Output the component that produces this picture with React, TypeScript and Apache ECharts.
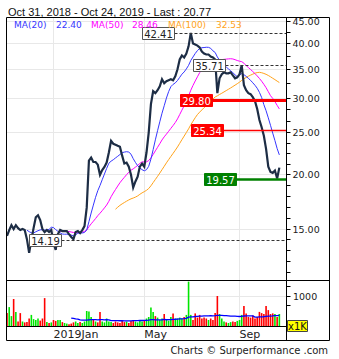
import React, { useEffect, useRef } from "react";
import * as echarts from "echarts";

// ---------------- data ----------------
const TITLE = "Oct 31, 2018 - Oct 24, 2019 - Last : 20.77";
const START_DATE = "2018-10-31";
const HOLIDAYS = [
  "2018-11-22", "2018-12-05", "2018-12-25", "2019-01-01", "2019-01-21",
  "2019-02-18", "2019-04-19", "2019-05-27", "2019-07-04", "2019-09-02",
];
const SAMPLE_STEP = 2; // trading days per plotted point
const EXTRA_POINTS = 3; // empty room right of the last close

const prices = [
  14.46, 14.92, 15.31, 15.0, 15.31, 15.07, 14.92, 15.0, 14.92, 14.22,
  13.22, 14.15, 15.07, 15.97, 16.14, 15.73, 15.0, 14.76, 14.92, 14.76,
  14.92, 13.93, 13.43, 14.6, 14.92, 14.84, 14.84, 14.84, 14.6, 14.38,
  14.22, 14.76, 14.84, 14.68, 14.92, 15.23, 16.8, 21.55, 21.9, 21.4,
  21.4, 21.1, 20.0, 20.5, 20.85, 21.33, 22.5, 23.94, 23.57, 23.45,
  23.32, 23.2, 22.13, 21.22, 21.33, 20.88, 20.0, 18.7, 19.3, 19.8,
  20.88, 21.22, 20.88, 22.5, 25.0, 29.08, 31.14, 30.82, 31.3, 31.97,
  33.17, 32.48, 32.83, 33.0, 33.17, 33.0, 33.7, 34.97, 36.85, 37.63,
  37.24, 38.03, 39.5, 42.41, 40.08, 39.87, 39.66, 39.25, 38.43, 38.03,
  37.83, 37.83, 37.43, 37.24, 36.85, 30.82, 33.35, 34.06, 34.42, 34.24,
  34.24, 34.42, 33.88, 33.35, 33.52, 34.06, 35.71, 32.14, 31.3, 30.82,
  30.66, 30.18, 29.55, 28.33, 26.74, 25.72, 24.58, 22.95, 20.88, 20.3,
  20.2, 20.45, 19.6, 20.77,
];

// volume in thousands
const volumes = [
  430, 630, 330, 900, 470, 150, 430, 150, 120, 130,
  250, 370, 230, 200, 250, 180, 250, 930, 130, 100,
  120, 200, 170, 200, 200, 130, 100, 80, 60, 80,
  120, 150, 100, 130, 100, 150, 500, 480, 300, 200,
  150, 120, 470, 150, 120, 250, 150, 130, 100, 150,
  120, 100, 170, 130, 150, 100, 170, 200, 150, 120,
  170, 150, 180, 250, 300, 620, 470, 330, 280, 200,
  250, 400, 200, 180, 300, 420, 250, 250, 280, 250,
  300, 370, 1480, 370, 200, 420, 280, 370, 250, 280,
  250, 200, 250, 200, 430, 1000, 400, 250, 150, 120,
  100, 130, 150, 130, 170, 200, 370, 670, 420, 300,
  280, 350, 250, 300, 470, 430, 400, 670, 530, 400,
  420, 400, 300, 400,
];

const maNames = ["MA(20)", "MA(50)", "MA(100)"];
const maLegendValues = ["22.40", "28.46", "32.53"];
const maPeriodsDays = [20, 50, 100];
const volMaPeriodDays = 60;

const levelValues = [42.41, 35.71, 29.8, 25.34, 19.57, 14.19];
const levelKinds = ["plain", "plain", "red", "red", "green", "plain"];

const priceMajorTicks = [15, 20, 25, 30, 35, 40, 45];
const priceMinorDivisions = [5, 4, 3, 2, 2, 2];
const volumeTicks = [667, 1000, 1333];
const volumeLabelTick = 1000;

// ---------------- layout / style ----------------
const PRICE_MIN = 11.45;
const PRICE_MAX = 45.9;
const VOL_MAX = 1500;
const levelAnchors = [61, 84, 78, 83, 89, 10];
const levelLineWidths = [1, 1, 3, 1.5, 2.5, 1];
const maColors = ["#3636ff", "#ff00ff", "#ffa31a"];
const legendX = [[14, 56], [91, 132], [168, 216]];
const FONT = '"DejaVu Sans", Verdana, sans-serif';

// ---------------- helpers ----------------
function tradingDays(start: string, count: number): string[] {
  const out: string[] = [];
  const d = new Date(start + "T00:00:00Z");
  while (out.length < count) {
    const wd = d.getUTCDay();
    const iso = d.toISOString().slice(0, 10);
    if (wd !== 0 && wd !== 6 && HOLIDAYS.indexOf(iso) < 0) out.push(iso);
    d.setUTCDate(d.getUTCDate() + 1);
  }
  return out;
}

function movingAverage(arr: number[], n: number): (number | null)[] {
  return arr.map((_, i) => {
    if (i < n - 1) return null;
    let s = 0;
    for (let k = i - n + 1; k <= i; k++) s += arr[k];
    return +(s / n).toFixed(3);
  });
}

const allDays = tradingDays(START_DATE, (prices.length + EXTRA_POINTS - 1) * SAMPLE_STEP + 1);
const categories = allDays.filter((_, i) => i % SAMPLE_STEP === 0);
const pad = (a: (number | null)[]) => a.concat(new Array(categories.length - a.length).fill(null));

const MONTHS = ["Jan", "Feb", "Mar", "Apr", "May", "Jun", "Jul", "Aug", "Sep", "Oct", "Nov", "Dec"];
const monthLabelIdx = new Map<number, string>();
categories.forEach((c, i) => {
  if (i === 0) return;
  const m = +c.slice(5, 7) - 1;
  const pm = +categories[i - 1].slice(5, 7) - 1;
  if (m !== pm && m % 4 === 0) {
    monthLabelIdx.set(i, (m === 0 ? c.slice(0, 4) : "") + MONTHS[m]);
  }
});

const priceMinorTicks: number[] = [];
for (let i = 0; i < priceMajorTicks.length - 1; i++) {
  const a = priceMajorTicks[i], b = priceMajorTicks[i + 1], n = priceMinorDivisions[i];
  for (let k = 1; k < n; k++) priceMinorTicks.push(a * Math.pow(b / a, k / n));
}
{
  const r = Math.pow(priceMajorTicks[1] / priceMajorTicks[0], 1 / priceMinorDivisions[0]);
  let v = priceMajorTicks[0] / r;
  while (v > PRICE_MIN) { priceMinorTicks.push(v); v /= r; }
}

export default function App() {
  const ref = useRef<HTMLDivElement>(null);
  useEffect(() => {
    document.body.style.margin = "0";
    if (!ref.current) return;
    const chart = echarts.init(ref.current, undefined, { renderer: "svg" });

    const maSeries = maPeriodsDays.map((p, i) => ({
      type: "line",
      name: maNames[i],
      xAxisIndex: 0,
      yAxisIndex: 0,
      data: pad(movingAverage(prices, p / SAMPLE_STEP)),
      showSymbol: false,
      symbol: "none",
      lineStyle: { color: maColors[i], width: 1 },
      z: 3,
      silent: true,
    }));

    const snap = (v: number) => Math.round(v - 0.5) + 0.5;

    const option: any = {
      animation: false,
      grid: [
        { left: 7, top: 18, width: 279, height: 262 },
        { left: 7, top: 281, width: 279, height: 45 },
      ],
      xAxis: [
        {
          type: "category", gridIndex: 0, data: categories, boundaryGap: false,
          axisLine: { show: false }, axisTick: { show: false }, axisLabel: { show: false },
          splitLine: { show: true, interval: (i: number) => monthLabelIdx.has(i), lineStyle: { color: "#e8e8e8", width: 1 } },
        },
        {
          type: "category", gridIndex: 1, data: categories, boundaryGap: false,
          axisLine: { show: false }, axisTick: { show: false },
          axisLabel: {
            show: true, interval: (i: number) => monthLabelIdx.has(i),
            formatter: (_v: string, i: number) => monthLabelIdx.get(i) || "",
            align: "left", margin: 3, fontSize: 11, fontFamily: FONT, color: "#222",
          },
          splitLine: { show: true, interval: (i: number) => monthLabelIdx.has(i), lineStyle: { color: "#e8e8e8", width: 1 } },
        },
      ],
      yAxis: [
        {
          type: "log", logBase: 10, gridIndex: 0, position: "right", min: PRICE_MIN, max: PRICE_MAX,
          axisLine: { show: false }, axisTick: { show: false }, axisLabel: { show: false }, splitLine: { show: false },
        },
        {
          type: "value", gridIndex: 1, position: "right", min: 0, max: VOL_MAX,
          axisLine: { show: false }, axisTick: { show: false }, axisLabel: { show: false }, splitLine: { show: false },
        },
      ],
      series: [
        {
          type: "custom", name: "priceAxis", xAxisIndex: 0, yAxisIndex: 0, z: 1, silent: true,
          data: priceMajorTicks.map((v) => [0, v]),
          renderItem: (params: any, api: any) => {
            const v = api.value(1);
            const y = snap(api.coord([0, v])[1]);
            const cs = params.coordSys;
            const right = cs.x + cs.width;
            return {
              type: "group",
              children: [
                { type: "line", shape: { x1: cs.x, y1: y, x2: right, y2: y }, style: { stroke: "#e8e8e8", lineWidth: 1 } },
                { type: "line", shape: { x1: right, y1: y, x2: right + 4.5, y2: y }, style: { stroke: "#000", lineWidth: 1 } },
                { type: "text", style: { text: v.toFixed(2), x: right + 6.5, y: y, verticalAlign: "middle", align: "left", font: `9.5px ${FONT}`, fill: "#1a1a1a" } },
              ],
            };
          },
        },
        {
          type: "custom", name: "priceMinor", xAxisIndex: 0, yAxisIndex: 0, z: 1, silent: true,
          data: priceMinorTicks.map((v) => [0, v]),
          renderItem: (params: any, api: any) => {
            const y = snap(api.coord([0, api.value(1)])[1]);
            const right = params.coordSys.x + params.coordSys.width;
            return { type: "line", shape: { x1: right, y1: y, x2: right + 4.5, y2: y }, style: { stroke: "#000", lineWidth: 1 } };
          },
        },
        ...maSeries.slice().reverse(),
        {
          type: "line", name: "price", xAxisIndex: 0, yAxisIndex: 0, data: pad(prices),
          showSymbol: false, symbol: "none", silent: true,
          lineStyle: { color: "#1d2d45", width: 2.2, join: "miter" }, z: 4,
        },
        {
          type: "custom", name: "levels", xAxisIndex: 0, yAxisIndex: 0, z: 6, silent: true,
          data: levelValues.map((v, i) => [levelAnchors[i], v, i]),
          renderItem: (params: any, api: any) => {
            const i = api.value(2);
            const v = api.value(1);
            const [x0, yRaw] = api.coord([api.value(0), v]);
            const y = Math.round(yRaw);
            const right = params.coordSys.x + params.coordSys.width;
            const kind = levelKinds[i];
            const w = 32, h = 12;
            const x = Math.round(x0) + 0.5;
            const fillBox = kind === "red" ? "#ff0000" : kind === "green" ? "#008000" : "#ffffff";
            const lineColor = kind === "red" ? "#ff0000" : kind === "green" ? "#008000" : "#333";
            return {
              type: "group",
              children: [
                {
                  type: "line", shape: { x1: x + w, y1: y + 0.5, x2: right, y2: y + 0.5 },
                  style: { stroke: lineColor, lineWidth: levelLineWidths[i], lineDash: kind === "plain" ? [3, 2] : null },
                },
                {
                  type: "rect", shape: { x: x, y: y - h / 2 + 0.5, width: w, height: h },
                  style: { fill: fillBox, stroke: kind === "plain" ? "#555" : fillBox, lineWidth: 1 },
                },
                {
                  type: "text",
                  style: {
                    text: v.toFixed(2), x: x + w / 2, y: y + 1, align: "center", verticalAlign: "middle",
                    font: `10px ${FONT}`, fill: kind === "plain" ? "#222" : "#ffffff",
                  },
                },
              ],
            };
          },
        },
        {
          type: "custom", name: "volAxis", xAxisIndex: 1, yAxisIndex: 1, z: 1, silent: true,
          data: volumeTicks.map((v) => [0, v]),
          renderItem: (params: any, api: any) => {
            const v = api.value(1);
            const y = snap(api.coord([0, v])[1]);
            const cs = params.coordSys;
            const right = cs.x + cs.width;
            const children: any[] = [
              { type: "line", shape: { x1: right, y1: y, x2: right + 4.5, y2: y }, style: { stroke: "#000", lineWidth: 1 } },
            ];
            if (v === volumeLabelTick) {
              children.push({ type: "line", shape: { x1: cs.x, y1: y, x2: right, y2: y }, style: { stroke: "#e8e8e8", lineWidth: 1 } });
              children.push({ type: "text", style: { text: String(v), x: right + 7, y: y, verticalAlign: "middle", align: "left", font: `9.5px ${FONT}`, fill: "#1a1a1a" } });
            }
            return { type: "group", children };
          },
        },
        {
          type: "bar", name: "volume", xAxisIndex: 1, yAxisIndex: 1, data: pad(volumes), barWidth: 1.6,
          silent: true, z: 3,
          itemStyle: {
            color: (p: any) => {
              const i = p.dataIndex;
              return i > 0 && prices[i] >= prices[i - 1] ? "#00e600" : "#ff0000";
            },
          },
        },
        {
          type: "line", name: "volMA", xAxisIndex: 1, yAxisIndex: 1,
          data: pad(movingAverage(volumes, volMaPeriodDays / SAMPLE_STEP)),
          showSymbol: false, symbol: "none", silent: true,
          lineStyle: { color: "#0000ff", width: 1.3 }, z: 4,
        },
      ],
      graphic: [
        { type: "text", left: 8, top: 6, style: { text: TITLE, font: '11px "Liberation Sans", Arial, sans-serif', fill: "#111" } },
        ...maNames.flatMap((n, i) => [
          { type: "text", x: legendX[i][0], y: 25, style: { text: n, font: `9px ${FONT}`, fill: maColors[i], verticalAlign: "middle" }, z: 10 },
          { type: "text", x: legendX[i][1], y: 25, style: { text: maLegendValues[i], font: `9px ${FONT}`, fill: maColors[i], verticalAlign: "middle" }, z: 10 },
        ]),
        { type: "rect", shape: { x: 6.5, y: 17.5, width: 323, height: 323 }, style: { fill: "none", stroke: "#000", lineWidth: 1 }, z: 20 },
        { type: "line", shape: { x1: 6.5, y1: 280.5, x2: 329.5, y2: 280.5 }, style: { stroke: "#000", lineWidth: 1 }, z: 20 },
        { type: "line", shape: { x1: 6.5, y1: 326.5, x2: 286.5, y2: 326.5 }, style: { stroke: "#000", lineWidth: 1 }, z: 20 },
        { type: "line", shape: { x1: 286.5, y1: 17.5, x2: 286.5, y2: 340.5 }, style: { stroke: "#000", lineWidth: 1 }, z: 20 },
        { type: "rect", shape: { x: 287.5, y: 320.5, width: 20, height: 11 }, style: { fill: "#ffff00", stroke: "#444", lineWidth: 1 }, z: 21 },
        { type: "text", x: 297.5, y: 326.5, style: { text: "x1K", font: `10px ${FONT}`, fill: "#111", align: "center", verticalAlign: "middle" }, z: 22 },
        { type: "text", x: 328, y: 350.5, style: { text: "Charts © Surperformance .com", font: `10px ${FONT}`, fill: "#222", align: "right", verticalAlign: "middle" } },
      ],
    };

    chart.setOption(option);
    return () => chart.dispose();
  }, []);

  return <div ref={ref} style={{ width: 339, height: 359, background: "#fff" }} />;
}
